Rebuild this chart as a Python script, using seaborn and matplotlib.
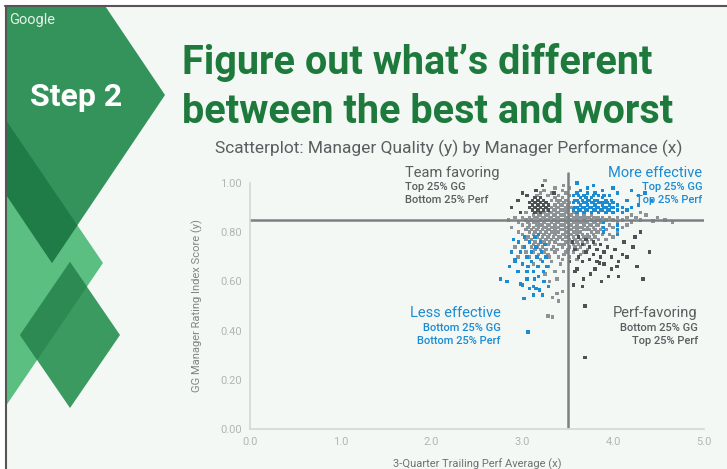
import pandas as pd
import matplotlib.pyplot as plt
import seaborn as sns
from matplotlib.patches import Polygon, Rectangle

# points (x = perf average, y = GG score)
gray_pts = [
    (2.96, 0.80), (2.96, 0.76), (2.96, 0.84),
    (3.00, 0.83), (3.00, 0.79), (3.00, 0.74), (3.00, 0.86),
    (3.04, 0.85), (3.04, 0.81), (3.04, 0.77), (3.04, 0.72), (3.04, 0.88),
    (3.08, 0.86), (3.08, 0.83), (3.08, 0.80), (3.08, 0.76), (3.08, 0.70),
    (3.12, 0.87), (3.12, 0.84), (3.12, 0.82), (3.12, 0.79), (3.12, 0.75), (3.12, 0.72), (3.12, 0.67),
    (3.16, 0.88), (3.16, 0.86), (3.16, 0.83), (3.16, 0.81), (3.16, 0.78), (3.16, 0.74), (3.16, 0.70), (3.16, 0.95),
    (3.20, 0.87), (3.20, 0.85), (3.20, 0.83), (3.20, 0.80), (3.20, 0.77), (3.20, 0.73), (3.20, 0.69), (3.20, 0.96),
    (3.24, 0.88), (3.24, 0.86), (3.24, 0.84), (3.24, 0.82), (3.24, 0.79), (3.24, 0.76), (3.24, 0.72), (3.24, 0.97),
    (3.28, 0.89), (3.28, 0.87), (3.28, 0.85), (3.28, 0.83), (3.28, 0.81), (3.28, 0.78), (3.28, 0.75), (3.28, 0.71),
    (3.28, 0.66), (3.28, 0.95),
    (3.32, 0.90), (3.32, 0.88), (3.32, 0.86), (3.32, 0.84), (3.32, 0.82), (3.32, 0.80), (3.32, 0.77), (3.32, 0.73),
    (3.32, 0.68), (3.32, 0.93), (3.32, 0.96),
    (3.36, 0.91), (3.36, 0.89), (3.36, 0.87), (3.36, 0.85), (3.36, 0.83), (3.36, 0.81), (3.36, 0.79), (3.36, 0.76),
    (3.36, 0.72), (3.36, 0.64), (3.36, 0.94), (3.36, 0.98),
    (3.40, 0.92), (3.40, 0.90), (3.40, 0.88), (3.40, 0.86), (3.40, 0.84), (3.40, 0.82), (3.40, 0.80), (3.40, 0.78),
    (3.40, 0.75), (3.40, 0.70), (3.40, 0.95),
    (3.44, 0.91), (3.44, 0.89), (3.44, 0.87), (3.44, 0.85), (3.44, 0.83), (3.44, 0.81), (3.44, 0.79), (3.44, 0.77),
    (3.44, 0.74), (3.44, 0.69), (3.44, 0.94), (3.44, 0.97),
    (3.48, 0.93), (3.48, 0.90), (3.48, 0.88), (3.48, 0.86), (3.48, 0.84), (3.48, 0.82), (3.48, 0.80), (3.48, 0.78),
    (3.48, 0.76), (3.48, 0.72), (3.48, 0.96),
    (3.52, 0.92), (3.52, 0.90), (3.52, 0.87), (3.52, 0.85), (3.52, 0.83), (3.52, 0.81), (3.52, 0.79), (3.52, 0.77),
    (3.52, 0.74), (3.52, 0.70), (3.52, 0.95),
    (3.56, 0.88), (3.56, 0.86), (3.56, 0.84), (3.56, 0.82), (3.56, 0.80), (3.56, 0.78), (3.56, 0.75), (3.56, 0.72),
    (3.60, 0.87), (3.60, 0.85), (3.60, 0.83), (3.60, 0.81), (3.60, 0.79), (3.60, 0.76), (3.60, 0.73), (3.60, 0.69),
    (3.64, 0.86), (3.64, 0.84), (3.64, 0.82), (3.64, 0.80), (3.64, 0.77), (3.64, 0.74), (3.64, 0.71),
    (3.68, 0.87), (3.68, 0.85), (3.68, 0.83), (3.68, 0.81), (3.68, 0.78), (3.68, 0.75), (3.68, 0.72),
    (3.72, 0.86), (3.72, 0.84), (3.72, 0.82), (3.72, 0.79), (3.72, 0.76), (3.72, 0.73),
    (3.76, 0.87), (3.76, 0.85), (3.76, 0.83), (3.76, 0.80), (3.76, 0.77),
    (3.80, 0.86), (3.80, 0.84), (3.80, 0.81), (3.80, 0.78), (3.80, 0.75),
    (3.84, 0.86), (3.84, 0.83), (3.84, 0.80), (3.84, 0.77),
    (3.88, 0.86), (3.88, 0.82), (3.88, 0.79),
    (3.92, 0.85), (3.92, 0.81), (3.92, 0.77),
    (3.96, 0.86), (3.96, 0.83), (3.96, 0.79),
    (4.00, 0.85), (4.00, 0.82), (4.00, 0.78),
    (4.05, 0.86), (4.05, 0.84), (4.05, 0.80),
    (4.10, 0.85), (4.10, 0.82), (4.15, 0.86), (4.15, 0.83), (4.20, 0.87), (4.20, 0.84),
    (4.25, 0.86), (4.30, 0.88), (4.30, 0.85), (4.36, 0.87), (4.44, 0.845), (4.49, 0.86),
    (4.57, 0.85), (4.65, 0.84),
    (3.33, 0.535), (3.28, 0.46), (3.33, 0.455), (3.38, 0.55), (3.44, 0.56), (3.38, 0.61),
    (3.45, 0.64), (3.42, 0.67), (3.30, 0.60), (3.25, 0.63), (3.40, 0.52),
    (2.88, 0.82), (2.92, 0.86), (2.85, 0.85), (2.95, 0.70), (2.92, 0.74),
    (3.25, 1.01), (3.45, 0.99), (3.52, 0.98),
    # in-between columns of the dense core
    (3.06, 0.84), (3.06, 0.78), (3.06, 0.82),
    (3.10, 0.85), (3.10, 0.81), (3.10, 0.77), (3.10, 0.74),
    (3.14, 0.86), (3.14, 0.84), (3.14, 0.80), (3.14, 0.76), (3.14, 0.73),
    (3.18, 0.87), (3.18, 0.84), (3.18, 0.82), (3.18, 0.79), (3.18, 0.75), (3.18, 0.71),
    (3.22, 0.86), (3.22, 0.83), (3.22, 0.81), (3.22, 0.78), (3.22, 0.74),
    (3.26, 0.87), (3.26, 0.85), (3.26, 0.82), (3.26, 0.80), (3.26, 0.77), (3.26, 0.73),
    (3.30, 0.88), (3.30, 0.86), (3.30, 0.83), (3.30, 0.81), (3.30, 0.79), (3.30, 0.76), (3.30, 0.70),
    (3.34, 0.89), (3.34, 0.87), (3.34, 0.85), (3.34, 0.82), (3.34, 0.80), (3.34, 0.78), (3.34, 0.74),
    (3.38, 0.90), (3.38, 0.88), (3.38, 0.86), (3.38, 0.84), (3.38, 0.82), (3.38, 0.80), (3.38, 0.77),
    (3.38, 0.73), (3.38, 0.93),
    (3.42, 0.91), (3.42, 0.89), (3.42, 0.87), (3.42, 0.85), (3.42, 0.83), (3.42, 0.81), (3.42, 0.78),
    (3.42, 0.75), (3.42, 0.93),
    (3.46, 0.92), (3.46, 0.89), (3.46, 0.87), (3.46, 0.85), (3.46, 0.83), (3.46, 0.81), (3.46, 0.79),
    (3.46, 0.75), (3.46, 0.71),
    (3.50, 0.91), (3.50, 0.89), (3.50, 0.86), (3.50, 0.84), (3.50, 0.82), (3.50, 0.80), (3.50, 0.78), (3.50, 0.73),
    (3.54, 0.90), (3.54, 0.87), (3.54, 0.85), (3.54, 0.83), (3.54, 0.81), (3.54, 0.79), (3.54, 0.76),
    (3.58, 0.86), (3.58, 0.84), (3.58, 0.82), (3.58, 0.80), (3.58, 0.77), (3.58, 0.74),
    (3.62, 0.86), (3.62, 0.84), (3.62, 0.82), (3.62, 0.80), (3.62, 0.78), (3.62, 0.75),
    (3.66, 0.86), (3.66, 0.84), (3.66, 0.82), (3.66, 0.79), (3.66, 0.76),
    (3.70, 0.86), (3.70, 0.84), (3.70, 0.81), (3.70, 0.78),
    (3.74, 0.86), (3.74, 0.83), (3.74, 0.81), (3.74, 0.78),
    (3.78, 0.86), (3.78, 0.84), (3.78, 0.82), (3.78, 0.79),
    (3.82, 0.85), (3.82, 0.83), (3.82, 0.80),
    (3.86, 0.85), (3.86, 0.84), (3.86, 0.81),
]

dark_pts = [
    (3.08, 0.90), (3.08, 0.92), (3.11, 0.89), (3.11, 0.91), (3.11, 0.93),
    (3.14, 0.88), (3.14, 0.90), (3.14, 0.92), (3.14, 0.94),
    (3.17, 0.89), (3.17, 0.91), (3.17, 0.93),
    (3.20, 0.88), (3.20, 0.90), (3.20, 0.92), (3.20, 0.94),
    (3.23, 0.89), (3.23, 0.91), (3.23, 0.93), (3.26, 0.90), (3.26, 0.92), (3.29, 0.89), (3.29, 0.91),
    (2.95, 0.93), (3.00, 0.96), (3.05, 0.95), (2.88, 0.90), (3.15, 0.97), (3.22, 0.99),
    (3.35, 0.96), (2.98, 0.88),
    (3.55, 0.76), (3.58, 0.73), (3.62, 0.78), (3.62, 0.70), (3.66, 0.75), (3.66, 0.68),
    (3.70, 0.77), (3.70, 0.72), (3.74, 0.74), (3.74, 0.69), (3.78, 0.76), (3.78, 0.71),
    (3.82, 0.73), (3.82, 0.68), (3.86, 0.75), (3.86, 0.70), (3.90, 0.72), (3.90, 0.67),
    (3.94, 0.74), (3.98, 0.70), (3.98, 0.65), (4.02, 0.73), (4.06, 0.68), (4.06, 0.62),
    (4.10, 0.71), (4.15, 0.70), (4.22, 0.74), (4.24, 0.78), (4.26, 0.66), (4.33, 0.61),
    (3.87, 0.60), (3.67, 0.61), (3.66, 0.58), (3.56, 0.585), (3.85, 0.675), (4.04, 0.66),
    (3.69, 0.50), (3.69, 0.29), (3.60, 0.65), (3.75, 0.63), (3.95, 0.62), (4.12, 0.76),
    (4.30, 0.80), (4.40, 0.72), (3.52, 0.68), (3.58, 0.64), (3.80, 0.65),
]

blue_pts = [
    # more effective
    (3.56, 0.89), (3.56, 0.92), (3.56, 0.95),
    (3.60, 0.88), (3.60, 0.90), (3.60, 0.93), (3.60, 0.96),
    (3.64, 0.89), (3.64, 0.91), (3.64, 0.94), (3.64, 0.97),
    (3.68, 0.88), (3.68, 0.90), (3.68, 0.92), (3.68, 0.95),
    (3.72, 0.89), (3.72, 0.91), (3.72, 0.93), (3.72, 0.96), (3.72, 0.98),
    (3.76, 0.88), (3.76, 0.90), (3.76, 0.92), (3.76, 0.94),
    (3.80, 0.89), (3.80, 0.91), (3.80, 0.93), (3.80, 0.96),
    (3.84, 0.88), (3.84, 0.90), (3.84, 0.92), (3.84, 0.95),
    (3.88, 0.89), (3.88, 0.91), (3.88, 0.94), (3.88, 0.97),
    (3.92, 0.88), (3.92, 0.90), (3.92, 0.93),
    (3.96, 0.89), (3.96, 0.91), (3.96, 0.95),
    (4.00, 0.88), (4.00, 0.90), (4.00, 0.92),
    (4.05, 0.89), (4.05, 0.91), (4.05, 0.96),
    (4.10, 0.88), (4.10, 0.90), (4.15, 0.89), (4.15, 0.93),
    (4.20, 0.90), (4.20, 0.97), (4.28, 0.91), (4.28, 0.95), (4.35, 0.96), (4.42, 0.93),
    (3.58, 0.90), (3.58, 0.93), (3.62, 0.89), (3.62, 0.92), (3.62, 0.95), (3.66, 0.90), (3.66, 0.93),
    (3.70, 0.89), (3.70, 0.92), (3.70, 0.94), (3.74, 0.90), (3.74, 0.93), (3.78, 0.89), (3.78, 0.92),
    (3.78, 0.95), (3.82, 0.90), (3.82, 0.93), (3.86, 0.89), (3.86, 0.92), (3.90, 0.90), (3.90, 0.92),
    (3.90, 0.95), (3.94, 0.89), (3.94, 0.92), (3.98, 0.90), (3.98, 0.93),
    (3.89, 0.84), (3.89, 0.82), (3.89, 0.80), (4.05, 0.83), (4.05, 0.81), (4.05, 0.79),
    (3.60, 1.00), (3.78, 0.99), (4.00, 0.98),
    # less effective
    (2.76, 0.61), (2.83, 0.60), (2.90, 0.77), (2.92, 0.69), (3.00, 0.585), (3.06, 0.395),
    (3.02, 0.53), (2.92, 0.68), (2.98, 0.59), (3.05, 0.61), (3.08, 0.57), (3.12, 0.58),
    (3.15, 0.57), (3.19, 0.565), (3.22, 0.545), (3.12, 0.545), (3.01, 0.53), (3.29, 0.58),
    (2.96, 0.76), (2.98, 0.72), (3.02, 0.78), (3.02, 0.74), (3.05, 0.70), (3.06, 0.66),
    (3.08, 0.76), (3.10, 0.72), (3.10, 0.68), (3.12, 0.64), (3.14, 0.78), (3.15, 0.74),
    (3.16, 0.70), (3.17, 0.66), (3.18, 0.62), (3.20, 0.76), (3.21, 0.72), (3.22, 0.68),
    (3.23, 0.64), (3.24, 0.60), (3.26, 0.70), (3.27, 0.66), (3.05, 0.64), (2.95, 0.64),
    (3.00, 0.67), (3.13, 0.61), (2.88, 0.72), (2.86, 0.66), (3.18, 0.79), (3.25, 0.75),
]

x_ticks = [0.0, 1.0, 2.0, 3.0, 4.0, 5.0]
y_ticks = [0.0, 0.2, 0.4, 0.6, 0.8, 1.0]
perf_cut = 3.5
gg_cut = 0.85

rows = ([(x, y, "mid") for x, y in gray_pts] + [(x, y, "dark") for x, y in dark_pts]
        + [(x, y, "blue") for x, y in blue_pts])
df = pd.DataFrame(rows, columns=["perf", "gg", "group"])

GREEN_TXT = "#1e7a3c"
BLUE = "#1b8bd4"
GREY_TXT = "#5a5e60"

sns.set_theme(style="white")
plt.rcParams["font.family"] = ["Roboto", "DejaVu Sans"]

fig = plt.figure(figsize=(7.27, 4.69), dpi=100, facecolor="#f3f8f4")

# slide decoration, drawn in pixel coordinates
deco = fig.add_axes([0, 0, 1, 1], zorder=0)
deco.set_xlim(0, 727)
deco.set_ylim(469, 0)
deco.axis("off")

light = Polygon([(103, 263), (-60, 23), (-223, 263), (-60, 503)], closed=True, color="#5cbf82", lw=0)
big = Polygon([(165, 95), (52, -73), (-61, 95), (52, 263)], closed=True, color="#34935a", lw=0)
small = Polygon([(70, 262), (120, 335), (70, 408), (20, 335)], closed=True, color="#3a9a5f", lw=0)
for p in (light, big, small):
    deco.add_patch(p)
over1 = Polygon(light.get_xy(), closed=True, color="#207c46", lw=0)
deco.add_patch(over1)
over1.set_clip_path(big)
over2 = Polygon(light.get_xy(), closed=True, color="#2d8a52", lw=0)
deco.add_patch(over2)
over2.set_clip_path(small)

# screenshot frame
deco.add_patch(Rectangle((0, 0), 727, 5, color="white", lw=0))
deco.add_patch(Rectangle((0, 0), 5, 469, color="white", lw=0))
deco.plot([5, 727], [6, 6], color="#555555", lw=1.5)
deco.plot([6, 6], [6, 469], color="#555555", lw=1.5)

deco.text(9, 20, "Google", color="#e6f2e9", fontsize=10.5, va="center", ha="left")
deco.text(30, 97, "Step 2", color="white", fontsize=23, fontweight="bold", va="center", ha="left")
deco.text(182, 63, "Figure out what\u2019s different", color=GREEN_TXT, fontsize=28.5,
          fontweight="bold", va="center", ha="left")
deco.text(182, 112, "between the best and worst", color=GREEN_TXT, fontsize=28.5,
          fontweight="bold", va="center", ha="left")
deco.text(449, 148, "Scatterplot: Manager Quality (y) by Manager Performance (x)", color=GREY_TXT,
          fontsize=12.5, va="center", ha="center")

# scatter
ax = fig.add_axes([250 / 727, 1 - 429 / 469, 454 / 727, 246 / 469], zorder=2)
ax.patch.set_alpha(0)
sns.scatterplot(data=df, x="perf", y="gg", hue="group",
                palette={"mid": "#8d9296", "dark": "#4e5254", "blue": BLUE},
                marker="s", s=6, linewidth=0, legend=False, ax=ax, clip_on=False)

ax.axhline(gg_cut, color="#7b8082", lw=1.8, zorder=1)
ax.plot([perf_cut, perf_cut], [0.01, 1.04], color="#7b8082", lw=1.8, clip_on=False, zorder=1)

ax.set_xlim(0, 5)
ax.set_ylim(0, 1)
ax.set_xticks(x_ticks)
ax.set_xticklabels([f"{v:.1f}" for v in x_ticks])
ax.set_yticks(y_ticks)
ax.set_yticklabels([f"{v:.2f}" for v in y_ticks])
ax.tick_params(length=0, labelsize=8, labelcolor="#b2b6b4", pad=6)
for side in ("top", "right"):
    ax.spines[side].set_visible(False)
for side in ("left", "bottom"):
    ax.spines[side].set_color("#d3d7d5")
    ax.spines[side].set_linewidth(1.2)
ax.set_xlabel("3-Quarter Trailing Perf Average (x)", fontsize=8, color="#6e7274", labelpad=8)
ax.set_ylabel("GG Manager Rating Index Score (y)", fontsize=8, color="#808486", labelpad=12)

# quadrant labels
def quad(x, ys, lines, color, ha):
    ax.text(x, ys[0], lines[0], fontsize=10.5, color=color, ha=ha, va="center", clip_on=False)
    for yy, t in zip(ys[1:], lines[1:]):
        ax.text(x, yy, t, fontsize=8, color=color, ha=ha, va="center", fontweight="medium",
                clip_on=False)

top_ys = [1.04, 0.984, 0.931]
low_ys = [0.472, 0.41, 0.358]
quad(1.71, top_ys, ["Team favoring", "Top 25% GG", "Bottom 25% Perf"], GREY_TXT, "left")
quad(4.98, top_ys, ["More effective", "Top 25% GG", "Top 25% Perf"], BLUE, "right")
quad(2.76, low_ys, ["Less effective", "Bottom 25% GG", "Bottom 25% Perf"], BLUE, "right")
quad(4.93, low_ys, ["Perf-favoring", "Bottom 25% GG", "Top 25% Perf"], GREY_TXT, "right")

fig.savefig("out.png", dpi=100, facecolor=fig.get_facecolor())
